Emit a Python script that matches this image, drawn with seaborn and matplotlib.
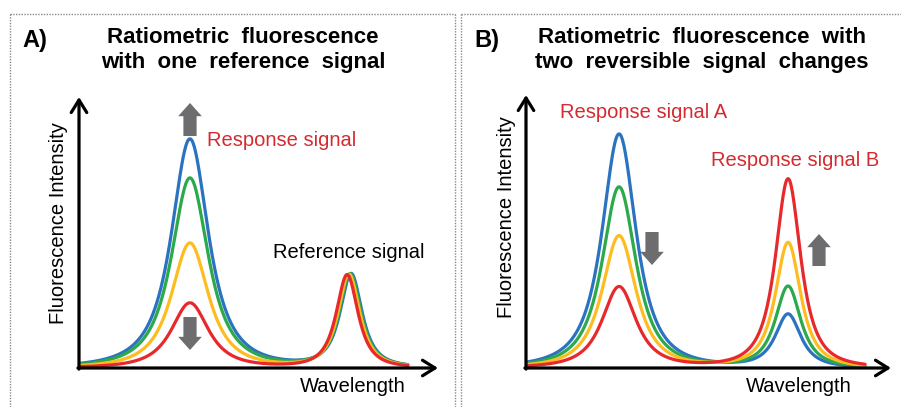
import numpy as np
import pandas as pd
import matplotlib
matplotlib.use('Agg')
import matplotlib.pyplot as plt
from matplotlib.lines import Line2D
from matplotlib.patches import FancyArrowPatch
import seaborn as sns

# four measurement states, drawn in this order (red on top)
states = ['s1', 's2', 's3', 's4']
colors = ['#2b73c1', '#2ba94b', '#fdbc1f', '#e8292b']

# Panel A: one response peak that changes, one reference peak that stays
a_span = [0.3, 91.6]
a_resp_center = 30.9
a_resp_width = 6.1
a_resp_height = [84.5, 70.1, 46.1, 24.0]
a_ref_center = [75.8, 75.5, 75.2, 74.7]
a_ref_width = 3.6
a_ref_height = [34.3, 34.3, 34.3, 34.3]

# Panel B: two response peaks changing in opposite directions
b_span = [0.3, 92.9]
b_a_center = 25.5
b_a_width = 5.5
b_a_height = [85.7, 66.3, 48.4, 29.7]
b_b_center = 71.8
b_b_width = 4.1
b_b_height = [19.4, 29.7, 45.8, 69.2]


def peak(x, c, w, h, m=1.35):
    # Pearson VII band shape
    return h / (1 + ((x - c) / w) ** 2 * (2 ** (1 / m) - 1)) ** m


rows = []
xa = np.linspace(a_span[0], a_span[1], 500)
for i, s in enumerate(states):
    y = peak(xa, a_resp_center, a_resp_width, a_resp_height[i]) + \
        peak(xa, a_ref_center[i], a_ref_width, a_ref_height[i])
    rows.append(pd.DataFrame({'wl': xa, 'fi': y, 'state': s}))
df_a = pd.concat(rows)

rows = []
xb = np.linspace(b_span[0], b_span[1], 500)
for i, s in enumerate(states):
    y = peak(xb, b_a_center, b_a_width, b_a_height[i]) + \
        peak(xb, b_b_center, b_b_width, b_b_height[i])
    rows.append(pd.DataFrame({'wl': xb, 'fi': y, 'state': s}))
df_b = pd.concat(rows)

sns.set_theme(style='white')
plt.rcParams['font.family'] = ['Liberation Sans', 'DejaVu Sans']
plt.rcParams['text.color'] = 'black'

W, H = 901, 407
fig = plt.figure(figsize=(W / 100, H / 100), dpi=100)


def fp(px, py):
    return (px / W, 1 - py / H)


red_txt = '#d52a30'
gray = '#6d6d6f'


def panel(rect, df):
    ax = fig.add_axes(rect)
    sns.lineplot(data=df, x='wl', y='fi', hue='state', hue_order=states,
                 palette=colors, linewidth=2.3, legend=False, estimator=None,
                 sort=False, ax=ax)
    ax.set_xlim(0, 100)
    ax.set_ylim(0, 100)
    ax.set_axis_off()
    arrow = dict(arrowstyle='->,head_length=0.45,head_width=0.28', color='black',
                 lw=2.3, shrinkA=0, shrinkB=0, mutation_scale=20)
    ax.annotate('', xy=(0, 1), xytext=(0, -0.004), xycoords='axes fraction',
                arrowprops=arrow)
    ax.annotate('', xy=(1, 0), xytext=(-0.003, 0), xycoords='axes fraction',
                arrowprops=arrow)
    return ax


ax_a = panel([79 / W, 1 - 368 / H, (438 - 79) / W, (368 - 97) / H], df_a)
ax_b = panel([526 / W, 1 - 368 / H, (891 - 526) / W, (368 - 95) / H], df_b)

# grey block arrows showing the direction of change
for (x0, y0, y1) in [(190, 136, 103), (190, 317, 350), (652, 232, 265), (819, 266, 234)]:
    fig.add_artist(FancyArrowPatch(
        fp(x0, y0), fp(x0, y1), transform=fig.transFigure,
        arrowstyle='simple,head_length=0.95,head_width=1.7,tail_width=0.95',
        color=gray, lw=0, shrinkA=0, shrinkB=0, mutation_scale=10))

# titles and panel letters
fig.text(*fp(22, 40), 'A)', fontsize=17, fontweight='bold', ha='left', va='center')
fig.text(*fp(474, 41), 'B)', fontsize=17, fontweight='bold', ha='left', va='center')
fig.text(*fp(243, 50), 'Ratiometric  fluorescence\nwith  one  reference  signal',
         fontsize=16, fontweight='bold', ha='center', va='center', linespacing=1.22)
fig.text(*fp(702, 50), 'Ratiometric  fluorescence  with\ntwo  reversible  signal  changes',
         fontsize=16, fontweight='bold', ha='center', va='center', linespacing=1.22)

# labels
lab = dict(fontsize=14.5, va='center')
fig.text(*fp(59, 223), 'Fluorescence Intensity', rotation=90, ha='center', **lab)
fig.text(*fp(506, 217), 'Fluorescence Intensity', rotation=90, ha='center', **lab)
fig.text(*fp(300, 386), 'Wavelength', ha='left', **lab)
fig.text(*fp(746, 387), 'Wavelength', ha='left', **lab)
fig.text(*fp(207, 141), 'Response signal', ha='left', color=red_txt, **lab)
fig.text(*fp(273, 253), 'Reference signal', ha='left', **lab)
fig.text(*fp(560, 113), 'Response signal A', ha='left', color=red_txt, **lab)
fig.text(*fp(711, 161), 'Response signal B', ha='left', color=red_txt, **lab)

# dotted panel frames
frame = dict(color='#8a8a8a', lw=1.0, linestyle=(0, (1, 1)), transform=fig.transFigure)
for xs, ys in [([10, 455], [14, 14]), ([10, 10], [14, 407]), ([455, 455], [14, 407]),
               ([461, 901], [14, 14]), ([461, 461], [14, 407])]:
    fig.add_artist(Line2D([x / W for x in xs], [1 - y / H for y in ys], **frame))

fig.savefig('out.png', dpi=100)
